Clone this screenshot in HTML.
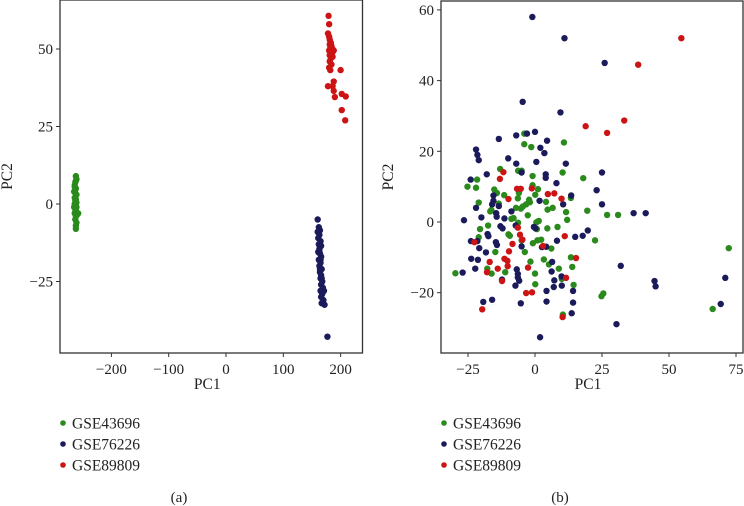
<!DOCTYPE html>
<html><head><meta charset="utf-8"><style>
html,body{margin:0;padding:0;background:#fff;}
svg{display:block;font-family:"Liberation Serif",serif;}
</style></head><body>
<svg id="s" width="744" height="506" viewBox="0 0 744 506"></svg>
<script>
// Panel (a)
const aGreen=[[-262,9],[-261,8],[-263,7],[-264,6],[-262,5],[-265,4],[-263,3.5],[-261,3],[-264,2],[-262,1.5],[-263,1],[-261,0.5],[-264,0],[-262,-0.5],[-265,-1],[-263,-1.5],[-262,-2],[-258,-3],[-264,-3],[-262,-4],[-263,-5],[-261,-6],[-262,-7],[-262,-8],[-263,-2.5],[-261,-1],[-264,5.5],[-262,7.5],[-260,-3.5],[-263,4.5]];
const aNavy=[[160,-5],[162,-7.5],[164,-8.5],[160,-9],[163,-10],[161,-11],[165,-12],[162,-13],[166,-13.5],[163,-14.5],[161,-15.5],[164,-16],[166,-17],[162,-18],[165,-19],[163,-20],[167,-21],[164,-22],[166,-23],[165,-24],[168,-25],[166,-26],[169,-27],[165,-28],[171,-28],[168,-29],[166,-30],[170,-31],[167,-32],[172,-32.5],[177,-42.8],[163,-15],[165,-18],[164,-21],[167,-24]];
const aRed=[[179,60.7],[180,58],[178,55],[180,54],[181,53],[183,52],[181,51.5],[184,51],[182,50.5],[186,50],[180,49.5],[188,49.5],[183,49],[185,48.5],[181,48],[186,47.5],[183,47],[181,46],[184,45],[180,44],[182,43.2],[200,43.2],[188,39.5],[186,38],[178,38],[188,36.5],[190,34.5],[202,35.5],[209,34.7],[202,30.3],[208,27]];
const aXTicks=[-200,-100,0,100,200];
const aYTicks=[50,25,0,-25];
// Panel (b)
const bNavy=[[-1,58],[11,52],[26,45],[-4.6,34],[9.5,31],[0,25.5],[-3,25],[-7,24.5],[-13.5,23.5],[4.5,23],[2,21],[3.5,19.5],[-22,20.5],[-21.5,19],[-21,17.5],[-10,18],[-7,16.5],[0.5,17],[11.5,16.5],[-18,13.5],[-5,14],[4,13.5],[4,12.5],[-24,12],[8,11],[25,14],[23,9],[-15.5,7.5],[-15.5,6],[-16,5],[-13.5,4.5],[13.5,7.5],[10.5,5],[25,5],[1.7,6],[-22,4],[-8.8,3],[-14.5,2.5],[-14.3,1.5],[-20,1.3],[-11.4,1],[36.8,2.5],[41.3,2.5],[-26.5,0.5],[-12.9,-1.2],[-12.1,-1.8],[-0.4,-1.4],[0.2,-1.8],[-7.2,-1],[19.7,-2.4],[17.8,-3.9],[15,-4.2],[-17.7,-3.4],[-17.4,-4],[-23.9,-5.4],[-21.5,-5.4],[-20.8,-7.4],[-14.6,-5.7],[-14.2,-6.5],[-5,-6.9],[2.6,-7.1],[4.2,-7],[8.2,-5.3],[-18.3,-8.6],[-23.8,-10.4],[-21.3,-10.7],[-22.3,-13.2],[-27,-14.3],[-6.8,-13.4],[-6.4,-14.7],[-6.4,-15.7],[-5.9,-16.6],[-7.3,-18],[-12.3,-16.3],[7.2,-16.5],[9.9,-15.4],[6.4,-11.3],[6.2,-14],[32,-12.4],[4.3,-19.5],[7,-18.4],[10,-18],[14.2,-19.5],[14.2,-22.8],[4.3,-22.5],[-5.3,-23],[-19.3,-22.6],[-16,-22],[13.7,-25.8],[30.4,-28.9],[1.9,-32.6],[44.6,-16.7],[45,-18.2],[71,-15.8],[69.3,-23.2]];
const bGreen=[[-4,25],[-4,22],[-1.4,21.2],[10.8,22.5],[-13,15],[-6.3,14.5],[-5,14.5],[-0.9,13],[10.3,14],[18,12.4],[-21.6,12],[-25.2,10],[-22,9.7],[-0.9,10.4],[1.1,9.3],[-15.2,9.2],[-14.2,8.2],[-11.5,7.6],[-6,8.2],[0.1,7.7],[-21,5.5],[-13.5,5.2],[-6.4,6.7],[-2.2,6.3],[-1.9,5.6],[-3.3,5],[-4.5,4.4],[-5.3,3.8],[-7.1,4],[4.1,5.7],[4.7,3.5],[6.6,4],[13.4,6.8],[11.6,2.8],[19.5,3.2],[26.9,2],[31,2],[-16.3,3.4],[-16.7,3],[-8.8,0.9],[-8,1.1],[-6.3,-0.2],[-2.7,1.9],[0.5,-0.1],[1.4,0.3],[12,0.6],[-17.5,-1],[-20.5,-2],[0.7,-2],[4.6,-1.8],[8.4,-1.4],[-21,-4.3],[-9.9,-3.5],[-9.4,-3.9],[-5,-5.2],[0.9,-5.2],[2.3,-5],[-0.8,-6],[22.4,-5.2],[6.1,-7.5],[-3.8,-8.5],[-14.8,-8.5],[-1.7,-11.2],[3.3,-10.6],[5.2,-12],[13.4,-10],[13.9,-12.7],[8.9,-13.2],[0,-14.6],[-11.1,-14.2],[-16.2,-14.6],[-17.8,-13.2],[-29.7,-14.5],[0.1,-17.6],[10,-16.1],[14.4,-17.8],[24.8,-21],[25.5,-20.2],[10.4,-26.2],[66.3,-24.6],[72.3,-7.4]];
const bRed=[[54.6,52],[38.5,44.5],[33.3,28.7],[18.9,27.1],[26.9,25.2],[-11.8,14.1],[-13.1,12.2],[-6.7,9.4],[-5.3,9.4],[-1.2,9.5],[7.2,8.1],[4.8,7.9],[-9.9,6.5],[9.9,6.6],[-6.4,-1.6],[-5.6,-3.6],[-4.7,-5],[11.1,-4],[-22.6,-5.7],[-8.4,-6.2],[3,-6.8],[-9.7,-8.3],[-10.3,-11],[-11.4,-10.4],[-16.9,-11.3],[-10.2,-12.5],[-13.9,-13.2],[-17.9,-14.2],[-2.6,-12.9],[15.3,-10.2],[-12.3,-16.7],[11.6,-15.8],[-3.3,-20.1],[-1.1,-19.9],[-19.7,-24.7],[10.3,-26.9]];
const bXTicks=[-25,0,25,50,75];
const bYTicks=[60,40,20,0,-20];
const seriesNames=["GSE43696","GSE76226","GSE89809"];
const colors=["#2a8a1c","#1b1a5a","#cc1414"];

const NS="http://www.w3.org/2000/svg";
const svg=document.getElementById('s');
function mk(tag,attrs,parent){const e=document.createElementNS(NS,tag);for(const k in attrs)e.setAttribute(k,attrs[k]);(parent||svg).appendChild(e);return e;}

function panel(cfg){
  const g=mk('g',{});
  
  
  const X=v=>cfg.x0+v*cfg.sx, Y=v=>cfg.y0-v*cfg.sy;
  const fr=mk('rect',{x:cfg.L,y:cfg.T,width:cfg.R-cfg.L,height:cfg.B-cfg.T,fill:'none',stroke:'#333','stroke-width':1.3},g);
  
  
  cfg.xt.forEach(t=>{
    const x=X(t);
    mk('line',{x1:x,x2:x,y1:cfg.B,y2:cfg.B+4,stroke:'#333'},g);
    const tx=mk('text',{x:x,y:cfg.B+21,'text-anchor':'middle','font-size':15,fill:'#222'},g);
    tx.textContent=(t<0?'\u2212'+(-t):t);
    
    
  });
  cfg.yt.forEach(t=>{
    const y=Y(t);
    mk('line',{x1:cfg.L-4,x2:cfg.L,y1:y,y2:y,stroke:'#333'},g);
    const tx=mk('text',{x:cfg.L-7,y:y+5,'text-anchor':'end','font-size':15,fill:'#222'},g);
    tx.textContent=(t<0?'\u2212'+(-t):t);
    
    
  });
  const xl=mk('text',{x:(cfg.L+cfg.R)/2-4,y:cfg.B+36,'text-anchor':'middle','font-size':15.5,fill:'#222'},g);
  xl.textContent='PC1';
  
  
  const yl=mk('text',{x:0,y:0,'text-anchor':'middle','font-size':15.5,fill:'#222',transform:`translate(${cfg.L-cfg.ylOff},${(cfg.T+cfg.B)/2}) rotate(-90)`},g);
  yl.textContent='PC2';
  
  
  cfg.series.forEach((arr,i)=>{
    arr.forEach(p=>{
      const c=mk('circle',{cx:X(p[0]),cy:Y(p[1]),r:3.2,fill:colors[i]},g);
      
      
    });
  });
  seriesNames.forEach((n,i)=>{
    const y=cfg.legY+i*21;
    const d=mk('circle',{cx:cfg.L+3,cy:y,r:2.8,fill:colors[i]},g);
    
    
    const t=mk('text',{x:cfg.L+12,y:y+5.5,'font-size':15.5,fill:'#222'},g);
    t.textContent=n;
    
    
  });
  const cap=mk('text',{x:cfg.capX,y:502,'text-anchor':'middle','font-size':15,fill:'#222'},g);
  cap.textContent=cfg.cap;
  
  
}
panel({name:'panel-a',L:60,R:362.5,T:0,B:353,x0:226,sx:0.573,y0:204,sy:3.1,xt:aXTicks,yt:aYTicks,ylOff:48,series:[aGreen,aNavy,aRed],legY:423,capX:179,cap:'(a)'});
panel({name:'panel-b',L:441,R:743,T:1,B:353,x0:535,sx:2.68,y0:222,sy:3.535,xt:bXTicks,yt:bYTicks,ylOff:48,series:[bGreen,bNavy,bRed],legY:423,capX:560,cap:'(b)'});
</script>
</body></html>
